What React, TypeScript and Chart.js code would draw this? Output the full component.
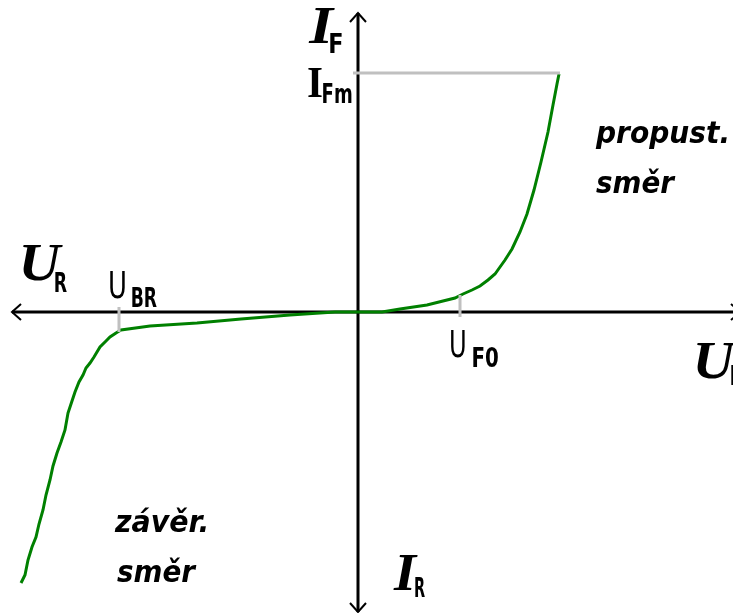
import React, { useEffect, useRef } from "react";
import { Chart, registerables } from "chart.js";

Chart.register(...registerables);

// Diode I-V characteristic (arbitrary units)
const voltage = [
  -33.7, -33.3, -33.0, -32.6, -32.2, -31.9, -31.5, -31.2, -30.8, -30.5,
  -30.1, -29.7, -29.3, -29.0, -28.6, -28.3, -27.9, -27.5, -27.2, -26.8,
  -26.4, -25.8, -25.2, -24.8, -24.2, -23.7, -20.8, -16.1, -11.7, -6.8,
  -2.3, 0, 2.4, 4.2, 6.9, 8.5, 9.7, 10.5, 11.4, 12.2,
  13.0, 13.7, 14.2, 14.7, 15.4, 16.2, 16.9, 17.6, 18.3, 19.0,
  19.5, 19.9, 20.1,
];
const current = [
  -27.1, -26.3, -24.8, -23.5, -22.5, -21.2, -19.8, -18.3, -16.8, -15.4,
  -14.1, -13.0, -11.8, -10.1, -8.9, -8.0, -7.0, -6.3, -5.6, -5.1,
  -4.5, -3.5, -2.9, -2.5, -2.1, -1.8, -1.4, -1.1, -0.7, -0.3,
  0, 0, 0, 0.3, 0.7, 1.1, 1.4, 1.8, 2.2, 2.6,
  3.2, 3.8, 4.5, 5.2, 6.3, 8.0, 9.8, 12.2, 15.0, 18.0,
  20.7, 22.8, 23.8,
];

// characteristic levels
const I_Fm = 23.9;
const I_FmSpan = [-0.5, 20.2];
const U_BR = -23.9;
const U_BRSpan = [0.5, -2.0];
const U_F0 = 10.2;
const U_F0Span = [1.7, -0.5];

// axis extents (tips of arrows)
const xAxisRange = [-34.6, 38.2];
const yAxisRange = [-30.0, 29.9];

// text labels: [text, fontKind, left, right, baseline] in axis units
const labelTexts = ["I", "F", "I", "Fm", "U", "R", "U", "BR", "U", "F0", "U", "F", "I", "R", "propust.", "směr", "závěr.", "směr"];
const labelFonts = ["big", "sub", "serif", "sub", "big", "sub", "plain", "sub", "plain", "sub", "big", "sub", "big", "sub", "word", "word", "word", "word"];
const labelLeft = [-5.0, -2.8, -5.0, -3.5, -33.5, -30.3, -24.8, -22.6, 9.3, 11.5, 33.9, 37.3, 3.5, 5.7, 23.7, 23.8, -24.4, -24.1];
const labelRight = [-2.3, -1.6, -3.6, -0.6, -29.5, -29.1, -23.3, -20.1, 10.7, 14.0, 37.9, 38.5, 6.0, 6.7, 36.9, 31.8, -15.2, -16.1];
const labelBase = [26.9, 25.9, 21.5, 20.9, 3.2, 2.0, 1.4, 0.5, -4.5, -5.5, -6.6, -7.3, -27.8, -28.5, 16.9, 11.9, -22.0, -27.0];

const FONTS: Record<string, string> = {
  big: "italic bold 52px 'Liberation Serif'",
  serif: "bold 44px 'Liberation Serif'",
  plain: "38px 'DejaVu Sans'",
  sub: "bold 26px 'DejaVu Sans'",
  word: "italic bold 30px 'DejaVu Sans'",
};

function drawFit(ctx: CanvasRenderingContext2D, text: string, font: string, left: number, right: number, base: number) {
  ctx.save();
  ctx.font = font;
  ctx.textAlign = "left";
  ctx.textBaseline = "alphabetic";
  const m = ctx.measureText(text);
  const inkW = m.actualBoundingBoxLeft + m.actualBoundingBoxRight;
  const s = inkW > 0 ? (right - left) / inkW : 1;
  ctx.translate(left, base);
  ctx.scale(s, 1);
  ctx.fillStyle = "#000";
  ctx.fillText(text, m.actualBoundingBoxLeft, 0);
  ctx.restore();
}

const axesPlugin = {
  id: "diodeAxes",
  beforeDatasetsDraw(chart: any) {
    const ctx: CanvasRenderingContext2D = chart.ctx;
    const xs = chart.scales.x;
    const ys = chart.scales.y;
    const x0 = xs.getPixelForValue(0);
    const y0 = ys.getPixelForValue(0);
    const xl = xs.getPixelForValue(xAxisRange[0]);
    const xr = xs.getPixelForValue(xAxisRange[1]);
    const yt = ys.getPixelForValue(yAxisRange[1]);
    const yb = ys.getPixelForValue(yAxisRange[0]);
    ctx.save();
    ctx.strokeStyle = "#000";
    ctx.lineWidth = 3;
    ctx.beginPath();
    ctx.moveTo(xl, y0);
    ctx.lineTo(xr, y0);
    ctx.moveTo(x0, yt);
    ctx.lineTo(x0, yb);
    ctx.stroke();
    ctx.lineWidth = 2;
    const L = 9, W = 8;
    ctx.beginPath();
    ctx.moveTo(xl + L, y0 - W); ctx.lineTo(xl, y0); ctx.lineTo(xl + L, y0 + W);
    ctx.moveTo(xr - L, y0 - W); ctx.lineTo(xr, y0); ctx.lineTo(xr - L, y0 + W);
    ctx.moveTo(x0 - W, yt + L); ctx.lineTo(x0, yt); ctx.lineTo(x0 + W, yt + L);
    ctx.moveTo(x0 - W, yb - L); ctx.lineTo(x0, yb); ctx.lineTo(x0 + W, yb - L);
    ctx.stroke();
    ctx.restore();
  },
  afterDatasetsDraw(chart: any) {
    const ctx: CanvasRenderingContext2D = chart.ctx;
    const xs = chart.scales.x;
    const ys = chart.scales.y;
    labelTexts.forEach((t, i) => {
      drawFit(
        ctx,
        t,
        FONTS[labelFonts[i]],
        xs.getPixelForValue(labelLeft[i]),
        xs.getPixelForValue(labelRight[i]),
        ys.getPixelForValue(labelBase[i])
      );
    });
  },
};

export default function App() {
  const ref = useRef<HTMLCanvasElement | null>(null);
  useEffect(() => {
    if (!ref.current) return;
    const gray = "#c0c0c0";
    const chart = new Chart(ref.current, {
      type: "scatter",
      data: {
        datasets: [
          {
            data: [{ x: I_FmSpan[0], y: I_Fm }, { x: I_FmSpan[1], y: I_Fm }],
            showLine: true, borderColor: gray, borderWidth: 3, pointRadius: 0,
          },
          {
            data: [{ x: U_BR, y: U_BRSpan[0] }, { x: U_BR, y: U_BRSpan[1] }],
            showLine: true, borderColor: gray, borderWidth: 3, pointRadius: 0,
          },
          {
            data: [{ x: U_F0, y: U_F0Span[0] }, { x: U_F0, y: U_F0Span[1] }],
            showLine: true, borderColor: gray, borderWidth: 3, pointRadius: 0,
          },
          {
            data: voltage.map((u, i) => ({ x: u, y: current[i] })),
            showLine: true, borderColor: "#008000", borderWidth: 3, pointRadius: 0,
            tension: 0,
          },
        ],
      },
      options: {
        animation: false,
        responsive: false,
        devicePixelRatio: 1,
        layout: { padding: 0 },
        plugins: { legend: { display: false }, tooltip: { enabled: false }, title: { display: false } },
        scales: {
          x: { type: "linear", min: -35.8, max: 37.5, display: false },
          y: { type: "linear", min: -30.1, max: 31.2, display: false },
        },
      },
      plugins: [axesPlugin],
    });
    return () => chart.destroy();
  }, []);
  return (
    <div style={{ position: "absolute", left: 0, top: 0, width: 733, height: 613, background: "#fff" }}>
      <canvas ref={ref} width={733} height={613} style={{ display: "block" }} />
    </div>
  );
}
